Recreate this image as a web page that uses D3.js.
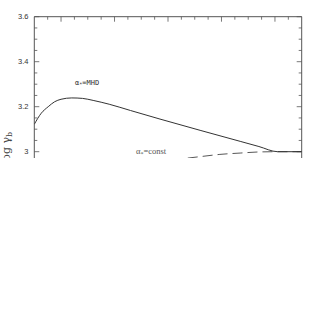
<!DOCTYPE html>
<html><head><meta charset="utf-8">
<script src="https://cdn.jsdelivr.net/npm/d3@7"></script>
<style>html,body{margin:0;padding:0;background:#fff;}svg{display:block;}</style>
</head><body>
<script>
// Data (x axis labels are cut off in the reference)
const mhdX = [0.5, 0.63, 0.76, 0.88, 1.0, 1.2, 1.4, 1.6, 1.9, 2.3, 2.85, 3.6, 4.35, 4.7, 5.05, 5.5];
const mhdY = [3.122, 3.171, 3.200, 3.222, 3.233, 3.239, 3.237, 3.228, 3.211, 3.183, 3.145, 3.095, 3.046, 3.023, 3.0, 3.0];
const constX = [2.0, 2.8, 3.35, 3.6, 3.97, 4.35, 4.72, 5.05, 5.5];
const constY = [2.90, 2.945, 2.971, 2.978, 2.988, 2.994, 2.999, 3.0, 3.0];
const yTickLabels = ["3", "3.2", "3.4", "3.6"];
const yTicks = [3.0, 3.2, 3.4, 3.6];

const W = 319, H = 320;
const svg = d3.select("body").append("svg").attr("width", W).attr("height", H);
svg.append("defs").append("clipPath").attr("id", "crop")
  .append("rect").attr("x", 0).attr("y", 0).attr("width", W).attr("height", 158);
svg.append("defs").append("clipPath").attr("id", "plot")
  .append("rect").attr("x", 34.3).attr("y", 16.7).attr("width", 267.4).attr("height", 160);

const g = svg.append("g").attr("clip-path", "url(#crop)");

const x = d3.scaleLinear().domain([0.5, 5.5]).range([34.3, 301.7]);
const y = d3.scaleLinear().domain([2.0, 3.6]).range([376.7, 16.7]);

const axisColor = "#555";
// frame
g.append("line").attr("x1", x(0.5)).attr("x2", x(5.5)).attr("y1", y(3.6)).attr("y2", y(3.6)).attr("stroke", axisColor);
g.append("line").attr("x1", x(0.5)).attr("x2", x(0.5)).attr("y1", y(3.6)).attr("y2", y(2.0)).attr("stroke", axisColor);
g.append("line").attr("x1", x(5.5)).attr("x2", x(5.5)).attr("y1", y(3.6)).attr("y2", y(2.0)).attr("stroke", axisColor);

// top ticks (inward)
const xMinor = d3.range(0.75, 5.5, 0.25);
xMinor.forEach(v => {
  const major = Math.abs(v - Math.round(v)) < 1e-6;
  g.append("line").attr("x1", x(v)).attr("x2", x(v))
    .attr("y1", y(3.6)).attr("y2", y(3.6) + (major ? 5 : 3)).attr("stroke", axisColor).attr("stroke-width", 0.8);
});
// left/right ticks (inward)
const yMinor = d3.range(2.05, 3.6, 0.05);
yMinor.forEach(v => {
  const major = Math.abs(v * 5 - Math.round(v * 5)) < 1e-6;
  const len = major ? 5 : 3;
  g.append("line").attr("x1", x(0.5)).attr("x2", x(0.5) + len)
    .attr("y1", y(v)).attr("y2", y(v)).attr("stroke", axisColor).attr("stroke-width", 0.8);
  g.append("line").attr("x1", x(5.5)).attr("x2", x(5.5) - len)
    .attr("y1", y(v)).attr("y2", y(v)).attr("stroke", axisColor).attr("stroke-width", 0.8);
});

// y tick labels
yTicks.forEach((v, i) => {
  g.append("text").attr("x", 28.5).attr("y", y(v) + 2.5)
    .attr("text-anchor", "end").attr("font-family", "Liberation Sans, Arial, sans-serif")
    .attr("font-size", 7.5).attr("fill", "#333").text(yTickLabels[i]);
});

// y axis title
const yt = g.append("text").attr("transform", "translate(10,148) rotate(-90)")
  .attr("text-anchor", "middle").attr("font-family", "DejaVu Serif, serif")
  .attr("font-size", 11).attr("fill", "#444");
yt.append("tspan").text("log γ");
yt.append("tspan").attr("font-size", 8).attr("dy", 2).text("b");

// curves
const line = d3.line().x(d => x(d[0])).y(d => y(d[1])).curve(d3.curveMonotoneX);
const pg = g.append("g").attr("clip-path", "url(#plot)");
pg.append("path").datum(constX.map((v, i) => [v, constY[i]]))
  .attr("d", line).attr("fill", "none").attr("stroke", "#444").attr("stroke-width", 0.9)
  .attr("stroke-dasharray", "10,5");
pg.append("path").datum(mhdX.map((v, i) => [v, mhdY[i]]))
  .attr("d", line).attr("fill", "none").attr("stroke", "#333").attr("stroke-width", 1);

// labels
const t1 = g.append("text").attr("x", 75).attr("y", 84.5)
  .attr("font-family", "DejaVu Sans Mono, monospace").attr("font-size", 7).attr("fill", "#333");
t1.append("tspan").text("α");
t1.append("tspan").attr("font-size", 5).attr("dy", 1.5).text("*");
t1.append("tspan").attr("dy", -1.5).text("=MHD");

const t2 = g.append("text").attr("x", 136).attr("y", 154)
  .attr("font-family", "Liberation Serif, Times New Roman, serif").attr("font-size", 8.5).attr("fill", "#555");
t2.append("tspan").text("α");
t2.append("tspan").attr("font-size", 6).attr("dy", 1.5).text("*");
t2.append("tspan").attr("dy", -1.5).text("=const");
</script>
</body></html>
